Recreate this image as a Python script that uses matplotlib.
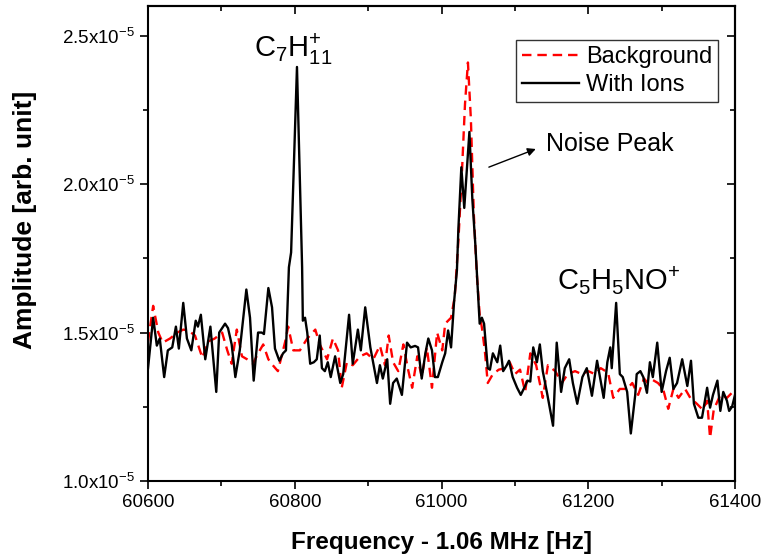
import numpy as np
import matplotlib.pyplot as plt
from matplotlib.ticker import MultipleLocator, FuncFormatter

plt.rcParams['font.family'] = ['Liberation Sans', 'DejaVu Sans']
plt.rcParams['mathtext.fontset'] = 'custom'
plt.rcParams['mathtext.rm'] = 'Liberation Sans'
plt.rcParams['mathtext.it'] = 'Liberation Sans'
plt.rcParams['mathtext.bf'] = 'Liberation Sans:bold'

# Data (amplitude in units of 1e-5)
freq_ions = [60600, 60607, 60612, 60616, 60622, 60627, 60633, 60638, 60642, 60648,
             60653, 60659, 60665, 60668, 60672, 60678, 60685, 60693, 60697, 60705,
             60709, 60714, 60719, 60725, 60734, 60739, 60744, 60750, 60755, 60758,
             60764, 60769, 60773, 60779, 60784, 60788, 60792, 60795, 60803, 60810,
             60811, 60814, 60817, 60821, 60826, 60830, 60834, 60837, 60841, 60845,
             60849, 60855, 60862, 60866, 60874, 60879, 60886, 60890, 60896, 60903,
             60912, 60916, 60920, 60926, 60930, 60934, 60939, 60946, 60953, 60958,
             60964, 60968, 60973, 60978, 60982, 60987, 60991, 60995, 61001, 61005,
             61009, 61013, 61017, 61021, 61023, 61027, 61031, 61038, 61042, 61046,
             61048, 61052, 61055, 61058, 61063, 61066, 61070, 61076, 61080, 61084,
             61089, 61092, 61097, 61103, 61108, 61114, 61117, 61121, 61125, 61130,
             61134, 61138, 61144, 61152, 61157, 61163, 61168, 61174, 61179, 61185,
             61192, 61198, 61205, 61212, 61216, 61221, 61226, 61230, 61232, 61238,
             61243, 61247, 61253, 61258, 61264, 61266, 61271, 61275, 61280, 61284,
             61288, 61294, 61300, 61306, 61311, 61316, 61321, 61328, 61335, 61340,
             61344, 61350, 61355, 61362, 61366, 61370, 61376, 61380, 61384, 61389,
             61392, 61396, 61400]
amp_ions = [1.38, 1.55, 1.456, 1.48, 1.35, 1.44, 1.45, 1.52, 1.446, 1.60,
            1.48, 1.44, 1.54, 1.52, 1.56, 1.41, 1.52, 1.30, 1.50, 1.53,
            1.515, 1.46, 1.35, 1.44, 1.645, 1.55, 1.338, 1.50, 1.50, 1.495,
            1.65, 1.585, 1.446, 1.405, 1.43, 1.44, 1.72, 1.77, 2.395, 1.72,
            1.54, 1.55, 1.50, 1.395, 1.40, 1.41, 1.49, 1.38, 1.37, 1.40,
            1.35, 1.42, 1.33, 1.36, 1.56, 1.395, 1.51, 1.44, 1.585, 1.45,
            1.33, 1.39, 1.345, 1.41, 1.26, 1.33, 1.345, 1.29, 1.466, 1.45,
            1.455, 1.45, 1.345, 1.43, 1.48, 1.44, 1.35, 1.35, 1.40, 1.43,
            1.507, 1.45, 1.60, 1.71, 1.85, 2.057, 1.92, 2.176, 1.95, 1.80,
            1.71, 1.53, 1.55, 1.53, 1.38, 1.375, 1.43, 1.40, 1.456, 1.37,
            1.39, 1.405, 1.35, 1.314, 1.29, 1.32, 1.338, 1.335, 1.45, 1.40,
            1.46, 1.37, 1.294, 1.186, 1.466, 1.30, 1.38, 1.41, 1.33, 1.26,
            1.35, 1.38, 1.287, 1.405, 1.35, 1.28, 1.40, 1.45, 1.38, 1.60,
            1.36, 1.35, 1.30, 1.16, 1.29, 1.36, 1.37, 1.35, 1.297, 1.40,
            1.35, 1.466, 1.30, 1.37, 1.415, 1.31, 1.33, 1.41, 1.32, 1.405,
            1.26, 1.213, 1.213, 1.314, 1.247, 1.29, 1.338, 1.236, 1.30, 1.27,
            1.236, 1.25, 1.29]

freq_bg = [60600, 60607, 60614, 60620, 60630, 60640, 60648, 60655, 60664, 60674,
           60682, 60691, 60701, 60708, 60714, 60721, 60728, 60735, 60743, 60750,
           60757, 60764, 60770, 60777, 60787, 60791, 60798, 60807, 60817, 60828,
           60834, 60844, 60852, 60859, 60864, 60871, 60879, 60889, 60898, 60907,
           60916, 60923, 60928, 60934, 60941, 60948, 60954, 60960, 60967, 60973,
           60980, 60987, 60994, 61001, 61005, 61013, 61018, 61023, 61028, 61032,
           61036, 61040, 61044, 61048, 61052, 61055, 61059, 61063, 61070, 61078,
           61087, 61093, 61100, 61107, 61114, 61121, 61129, 61138, 61145, 61155,
           61164, 61172, 61182, 61191, 61200, 61209, 61217, 61227, 61234, 61243,
           61253, 61260, 61268, 61276, 61281, 61288, 61295, 61302, 61309, 61316,
           61323, 61332, 61339, 61348, 61356, 61362, 61366, 61371, 61380, 61389,
           61397]
amp_bg = [1.47, 1.59, 1.50, 1.466, 1.48, 1.50, 1.51, 1.507, 1.49, 1.415,
          1.47, 1.48, 1.50, 1.44, 1.395, 1.51, 1.42, 1.41, 1.395, 1.43,
          1.46, 1.41, 1.39, 1.37, 1.47, 1.52, 1.44, 1.44, 1.48, 1.51,
          1.46, 1.41, 1.48, 1.44, 1.314, 1.40, 1.39, 1.42, 1.43, 1.41,
          1.456, 1.39, 1.49, 1.40, 1.37, 1.46, 1.38, 1.314, 1.42, 1.35,
          1.45, 1.314, 1.50, 1.44, 1.53, 1.55, 1.62, 1.81, 2.05, 2.27,
          2.41, 2.22, 1.90, 1.70, 1.56, 1.517, 1.44, 1.33, 1.36, 1.375,
          1.38, 1.40, 1.36, 1.375, 1.30, 1.43, 1.39, 1.28, 1.39, 1.37,
          1.33, 1.36, 1.37, 1.36, 1.37, 1.36, 1.38, 1.365, 1.28, 1.31,
          1.31, 1.33, 1.29, 1.345, 1.33, 1.34, 1.33, 1.31, 1.243, 1.31,
          1.28, 1.31, 1.28, 1.26, 1.24, 1.27, 1.145, 1.24, 1.29, 1.28,
          1.30]

amp_ions = np.array(amp_ions) * 1e-5
amp_bg = np.array(amp_bg) * 1e-5

fig = plt.figure(figsize=(7.65, 5.56), dpi=100)
ax = fig.add_axes([0.1935, 0.135, 0.7673, 0.854])

ax.plot(freq_bg, amp_bg, color='red', linestyle=(0, (4, 2.5)), linewidth=1.7, label='Background')
ax.plot(freq_ions, amp_ions, color='black', linewidth=1.7, label='With Ions')

ax.set_xlim(60600, 61400)
ax.set_ylim(1.0e-5, 2.6e-5)
ax.xaxis.set_major_locator(MultipleLocator(200))
ax.xaxis.set_minor_locator(MultipleLocator(100))
ax.yaxis.set_major_locator(MultipleLocator(0.5e-5))
ax.yaxis.set_minor_locator(MultipleLocator(0.25e-5))
ax.yaxis.set_major_formatter(FuncFormatter(lambda v, p: r'$%.1f\mathrm{x}10^{-5}$' % (v * 1e5)))

ax.tick_params(which='major', direction='out', length=6, width=1.2, labelsize=13.5)
ax.tick_params(which='minor', direction='out', length=3.5, width=1.2)

# inward ticks on top and right
top = ax.secondary_xaxis('top')
top.xaxis.set_major_locator(MultipleLocator(200))
top.xaxis.set_minor_locator(MultipleLocator(100))
top.tick_params(which='major', direction='in', length=6, width=1.2, labeltop=False)
top.tick_params(which='minor', direction='in', length=3.5, width=1.2)
right = ax.secondary_yaxis('right')
right.yaxis.set_major_locator(MultipleLocator(0.5e-5))
right.yaxis.set_minor_locator(MultipleLocator(0.25e-5))
right.tick_params(which='major', direction='in', length=6, width=1.2, labelright=False)
right.tick_params(which='minor', direction='in', length=3.5, width=1.2)

for s in ax.spines.values():
    s.set_linewidth(1.5)
top.spines['top'].set_linewidth(1.5)
right.spines['right'].set_linewidth(1.5)

ax.set_xlabel('Frequency - 1.06 MHz [Hz]', fontsize=17.5, fontweight='bold', labelpad=14)
ax.set_ylabel('Amplitude [arb. unit]', fontsize=19, fontweight='bold')
ax.yaxis.set_label_coords(-0.19, 0.55)

ax.text(60798, 2.455e-5, r'$\mathrm{C_7H_{11}^{+}}$', fontsize=21, ha='center', va='center')
ax.text(61242, 1.675e-5, r'$\mathrm{C_5H_5NO^{+}}$', fontsize=21, ha='center', va='center')
ax.annotate('', xy=(61132, 2.122e-5), xytext=(61061, 2.054e-5),
            arrowprops=dict(arrowstyle='-|>', color='black', lw=1, mutation_scale=12))
ax.text(61142, 2.135e-5, 'Noise Peak', fontsize=18, ha='left', va='center')

leg = ax.legend(loc='upper right', bbox_to_anchor=(0.971, 0.928), fontsize=17, frameon=True,
                fancybox=False, edgecolor='black', handlelength=2.4, handletextpad=0.3,
                borderpad=0.25, labelspacing=0.25, borderaxespad=0.0)
leg.get_frame().set_linewidth(1.0)

fig.savefig('out.png', dpi=100)
